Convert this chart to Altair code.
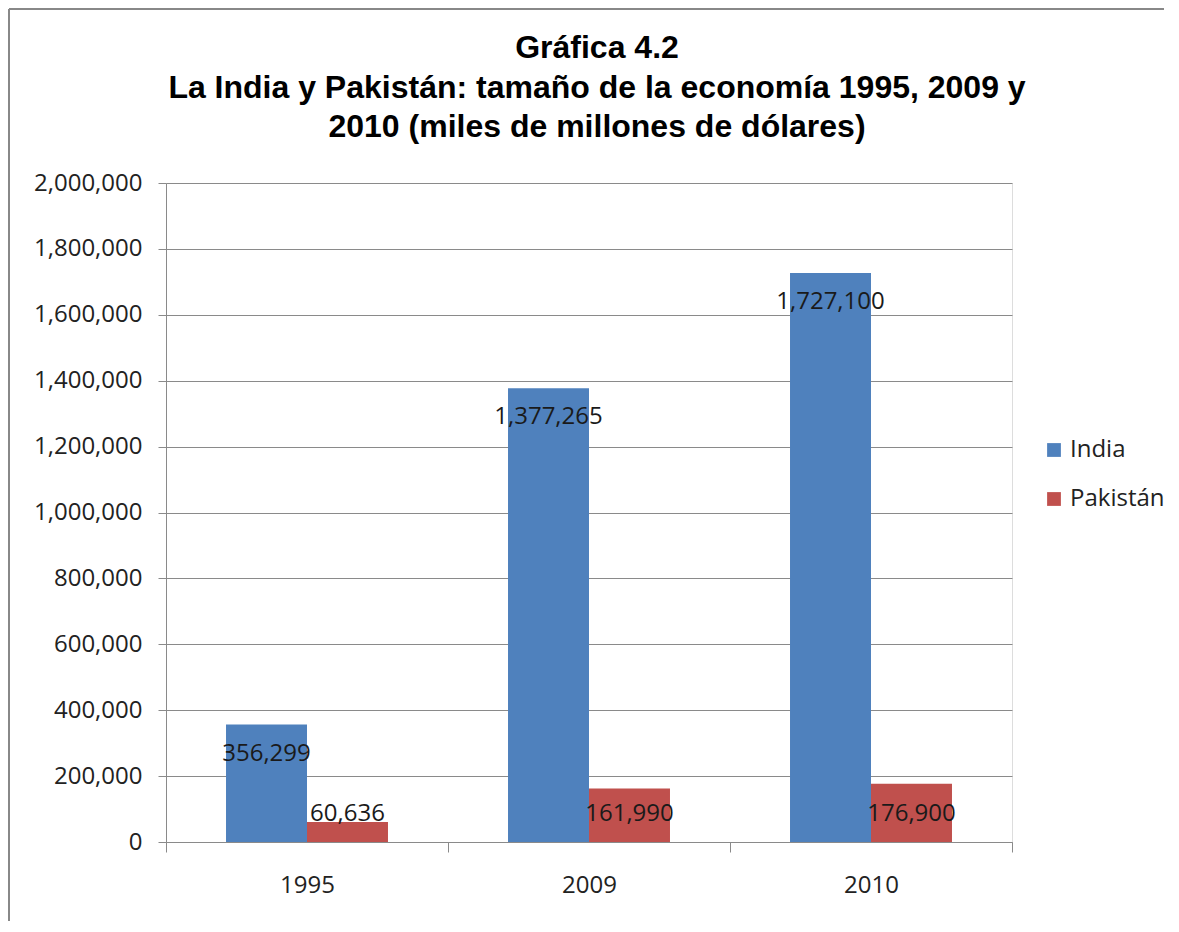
import altair as alt
import pandas as pd

years = ["1995", "2009", "2010"]
india = [356299, 1377265, 1727100]
pakistan = [60636, 161990, 176900]
series = ["India", "Pakistán"]
colors = ["#4F81BD", "#C0504D"]
y_ticks = [0, 200000, 400000, 600000, 800000, 1000000, 1200000, 1400000, 1600000, 1800000, 2000000]
title_text = ("Gráfica 4.2\n"
              "La India y Pakistán: tamaño de la economía 1995, 2009 y\n"
              "2010 (miles de millones de dólares)")

rows = []
for i, yr in enumerate(years):
    rows.append({"anio": yr, "pais": series[0], "valor": india[i]})
    rows.append({"anio": yr, "pais": series[1], "valor": pakistan[i]})
df = pd.DataFrame(rows)

FONT = "Open Sans"
GRID = "#8a8a8a"

x_axis = alt.Axis(labelAngle=0, tickBand="extent", tickSize=10,
                  labelPadding=21, domainColor=GRID, tickColor=GRID,
                  labelFont=FONT, labelFontSize=24, labelColor="#222222",
                  grid=False)
y_axis = alt.Axis(values=y_ticks, labelExpr="format(datum.value, ',')", tickSize=8,
                  labelPadding=16, domainColor=GRID, tickColor=GRID, gridColor=GRID,
                  labelFont=FONT, labelFontSize=24, labelColor="#222222")
x_scale = alt.Scale(paddingInner=0, paddingOuter=0)
y_scale = alt.Scale(domain=[0, 2000000], nice=False)

x_enc = alt.X("anio:N", sort=years, title=None, scale=x_scale, axis=x_axis)
y_enc = alt.Y("valor:Q", title=None, scale=y_scale, axis=y_axis)
xoff = alt.XOffset("pais:N", sort=series, scale=alt.Scale(paddingInner=0, paddingOuter=0.741))

base = alt.Chart(df)

bars = base.mark_bar().encode(
    x=x_enc,
    xOffset=xoff,
    y=y_enc,
    color=alt.Color("pais:N", sort=series,
                    scale=alt.Scale(domain=series, range=colors),
                    legend=alt.Legend(title=None, orient="none", legendX=876, legendY=255,
                                      symbolType="square", symbolSize=190,
                                      symbolStrokeWidth=0, labelFont=FONT,
                                      labelFontSize=24, labelColor="#222222",
                                      rowPadding=25, labelOffset=4)),
)

lab_india = base.transform_filter(alt.datum.pais == "India").mark_text(
    font=FONT, fontSize=24, color="#1a1a1a", baseline="middle", dy=29
).encode(
    x=x_enc,
    xOffset=xoff,
    y=y_enc,
    text=alt.Text("valor:Q", format=","),
)

lab_pak = base.transform_filter(alt.datum.pais == "Pakistán").mark_text(
    font=FONT, fontSize=24, color="#1a1a1a", baseline="middle", dy=-28
).encode(
    x=x_enc,
    xOffset=xoff,
    y=alt.Y(datum=0, scale=y_scale, axis=y_axis, title=None),
    text=alt.Text("valor:Q", format=","),
)

frame_df = pd.DataFrame({"k": [0]})
title_mark = alt.Chart(frame_df).mark_text(
    text=title_text, lineBreak="\n", font="Liberation Sans", fontSize=32,
    fontWeight="bold", color="#000000", lineHeight=39.5, align="center", baseline="top"
).encode(x=alt.value(431), y=alt.value(-150))

top_line = alt.Chart(frame_df).mark_rule(color="#888888", strokeWidth=2).encode(
    x=alt.value(-157), x2=alt.value(998), y=alt.value(-174))
left_line = alt.Chart(frame_df).mark_rule(color="#888888", strokeWidth=2).encode(
    x=alt.value(-157), y=alt.value(-174), y2=alt.value(738))

chart = alt.layer(bars, lab_india, lab_pak, title_mark, top_line, left_line).properties(
    width=846, height=659,
    padding=0,
).configure_view(stroke=None).configure(background="white")

chart.save("out.html", embed_options={"renderer": "svg", "actions": False})
